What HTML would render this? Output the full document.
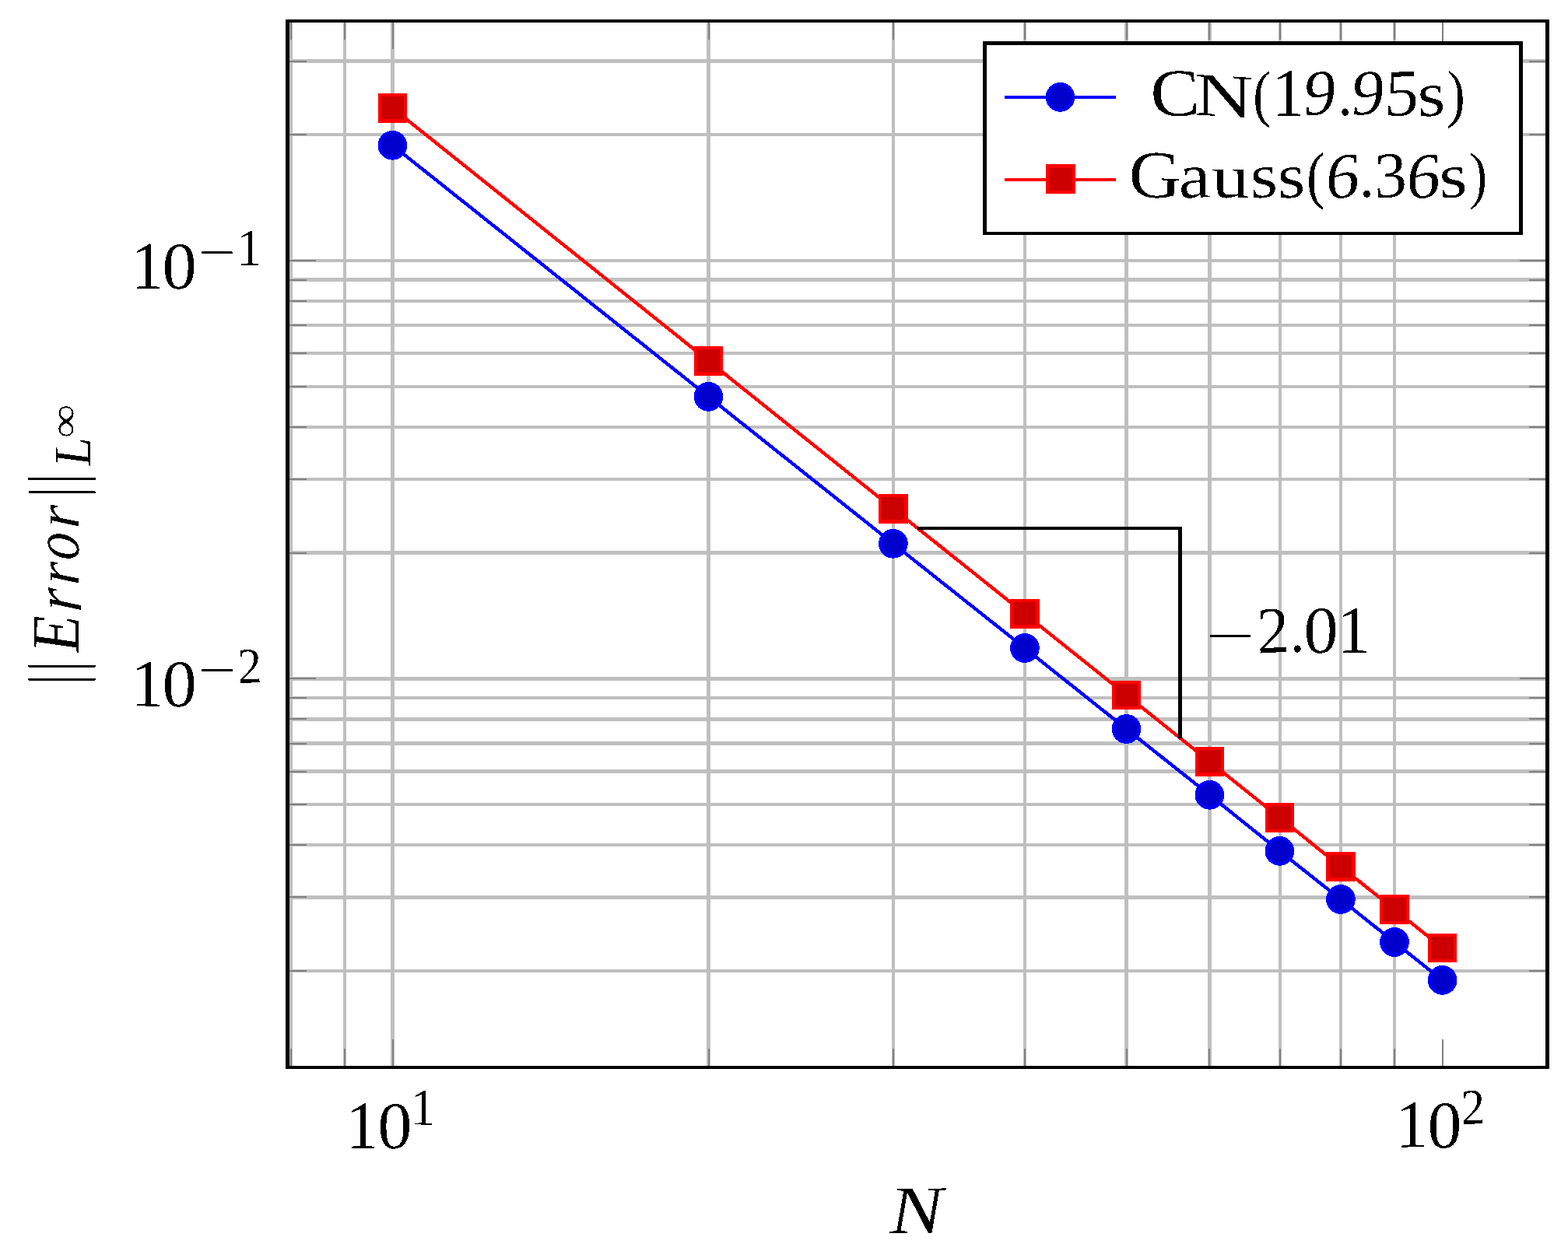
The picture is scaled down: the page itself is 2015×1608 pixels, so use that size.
<!DOCTYPE html>
<html><head><meta charset="utf-8"><title>Error convergence plot</title>
<style>
html,body{margin:0;padding:0;background:#fff;}
svg{display:block;}
text{font-family:"Liberation Serif", serif;fill:#000;}
</style></head><body>
<svg width="2015" height="1608" viewBox="0 0 2015 1608" shape-rendering="crispEdges">
<defs><filter id="b_slope" x="0" y="0" width="2015" height="1608" filterUnits="userSpaceOnUse" color-interpolation-filters="sRGB"><feComponentTransfer><feFuncA type="discrete" tableValues="0 0 1"/></feComponentTransfer></filter><filter id="b_legend" x="0" y="0" width="2015" height="1608" filterUnits="userSpaceOnUse" color-interpolation-filters="sRGB"><feComponentTransfer><feFuncA type="discrete" tableValues="0 0 1"/></feComponentTransfer></filter><filter id="b_ticks" x="0" y="0" width="2015" height="1608" filterUnits="userSpaceOnUse" color-interpolation-filters="sRGB"><feComponentTransfer><feFuncA type="discrete" tableValues="0 0 1"/></feComponentTransfer></filter><filter id="b_xlabel" x="0" y="0" width="2015" height="1608" filterUnits="userSpaceOnUse" color-interpolation-filters="sRGB"><feComponentTransfer><feFuncA type="discrete" tableValues="0 0 1"/></feComponentTransfer></filter><filter id="b_ylabel" x="0" y="0" width="2015" height="1608" filterUnits="userSpaceOnUse" color-interpolation-filters="sRGB"><feComponentTransfer><feFuncA type="discrete" tableValues="0 0 1"/></feComponentTransfer></filter></defs>
<rect x="0" y="0" width="2015" height="1608" fill="#fff"/>
<path d="M373.74,27.00V1372.00M442.76,27.00V1372.00M504.50,27.00V1372.00M910.68,27.00V1372.00M1148.28,27.00V1372.00M1316.86,27.00V1372.00M1447.62,27.00V1372.00M1554.46,27.00V1372.00M1644.79,27.00V1372.00M1723.04,27.00V1372.00M1792.06,27.00V1372.00M369.50,78.67H1988.60M369.50,173.29H1988.60M369.50,335.05H1988.60M369.50,359.64H1988.60M369.50,387.12H1988.60M369.50,418.29H1988.60M369.50,454.26H1988.60M369.50,496.81H1988.60M369.50,548.88H1988.60M369.50,616.02H1988.60M369.50,710.64H1988.60M369.50,872.40H1988.60M369.50,896.99H1988.60M369.50,924.47H1988.60M369.50,955.64H1988.60M369.50,991.61H1988.60M369.50,1034.16H1988.60M369.50,1086.23H1988.60M369.50,1153.37H1988.60M369.50,1247.99H1988.60" stroke="#bfbfbf" stroke-width="4.4" fill="none"/>
<path d="M373.74,1372.00v-24.0M373.74,27.00v24.0M442.76,1372.00v-24.0M442.76,27.00v24.0M504.50,1372.00v-36.0M504.50,27.00v36.0M910.68,1372.00v-24.0M910.68,27.00v24.0M1148.28,1372.00v-24.0M1148.28,27.00v24.0M1316.86,1372.00v-24.0M1316.86,27.00v24.0M1447.62,1372.00v-24.0M1447.62,27.00v24.0M1554.46,1372.00v-24.0M1554.46,27.00v24.0M1644.79,1372.00v-24.0M1644.79,27.00v24.0M1723.04,1372.00v-24.0M1723.04,27.00v24.0M1792.06,1372.00v-24.0M1792.06,27.00v24.0M1853.80,1372.00v-36.0M1853.80,27.00v36.0M369.50,78.67h24.0M1988.60,78.67h-24.0M369.50,173.29h24.0M1988.60,173.29h-24.0M369.50,335.05h36.0M1988.60,335.05h-36.0M369.50,359.64h24.0M1988.60,359.64h-24.0M369.50,387.12h24.0M1988.60,387.12h-24.0M369.50,418.29h24.0M1988.60,418.29h-24.0M369.50,454.26h24.0M1988.60,454.26h-24.0M369.50,496.81h24.0M1988.60,496.81h-24.0M369.50,548.88h24.0M1988.60,548.88h-24.0M369.50,616.02h24.0M1988.60,616.02h-24.0M369.50,710.64h24.0M1988.60,710.64h-24.0M369.50,872.40h36.0M1988.60,872.40h-36.0M369.50,896.99h24.0M1988.60,896.99h-24.0M369.50,924.47h24.0M1988.60,924.47h-24.0M369.50,955.64h24.0M1988.60,955.64h-24.0M369.50,991.61h24.0M1988.60,991.61h-24.0M369.50,1034.16h24.0M1988.60,1034.16h-24.0M369.50,1086.23h24.0M1988.60,1086.23h-24.0M369.50,1153.37h24.0M1988.60,1153.37h-24.0M369.50,1247.99h24.0M1988.60,1247.99h-24.0" stroke="#808080" stroke-width="2.0" fill="none"/>
<rect x="369.5" y="27.0" width="1619.10" height="1345.00" fill="none" stroke="#000" stroke-width="4.4"/>
<path d="M504.40,186.80L910.50,509.90L1147.90,698.80L1316.90,833.00L1447.50,937.00L1554.40,1021.80L1644.40,1093.90L1722.90,1156.00L1792.00,1211.00L1853.60,1259.90" stroke="#0000ff" stroke-width="4.4" fill="none" stroke-linejoin="miter"/>
<g fill="#0000cc" stroke="#0000ff" stroke-width="4.3"><circle cx="504.4" cy="186.8" r="16.7"/><circle cx="910.5" cy="509.9" r="16.7"/><circle cx="1147.9" cy="698.8" r="16.7"/><circle cx="1316.9" cy="833.0" r="16.7"/><circle cx="1447.5" cy="937.0" r="16.7"/><circle cx="1554.4" cy="1021.8" r="16.7"/><circle cx="1644.4" cy="1093.9" r="16.7"/><circle cx="1722.9" cy="1156.0" r="16.7"/><circle cx="1792.0" cy="1211.0" r="16.7"/><circle cx="1853.6" cy="1259.9" r="16.7"/></g>
<path d="M504.40,138.90L910.50,463.90L1147.90,653.90L1316.90,788.90L1447.40,893.40L1554.40,978.90L1644.50,1051.00L1722.90,1113.90L1792.00,1169.00L1853.60,1218.40" stroke="#ff0000" stroke-width="4.4" fill="none"/>
<g fill="#cc0000" stroke="#ff0000" stroke-width="4.3"><rect x="487.70" y="122.20" width="33.4" height="33.4"/><rect x="893.80" y="447.20" width="33.4" height="33.4"/><rect x="1131.20" y="637.20" width="33.4" height="33.4"/><rect x="1300.20" y="772.20" width="33.4" height="33.4"/><rect x="1430.70" y="876.70" width="33.4" height="33.4"/><rect x="1537.70" y="962.20" width="33.4" height="33.4"/><rect x="1627.80" y="1034.30" width="33.4" height="33.4"/><rect x="1706.20" y="1097.20" width="33.4" height="33.4"/><rect x="1775.30" y="1152.30" width="33.4" height="33.4"/><rect x="1836.90" y="1201.70" width="33.4" height="33.4"/></g>
<path d="M1179.2,678.9H1516.5V948.6" stroke="#000" stroke-width="4.4" fill="none"/>
<rect x="1265.5" y="55.5" width="689" height="244.5" fill="#fff" stroke="#000" stroke-width="4.4"/>
<path d="M1291,125H1434" stroke="#0000ff" stroke-width="4" fill="none"/>
<circle cx="1362.5" cy="124.9" r="16.7" fill="#0000cc" stroke="#0000ff" stroke-width="4.3"/>
<path d="M1291,231H1434" stroke="#ff0000" stroke-width="4" fill="none"/>
<rect x="1346.3" y="213.60000000000002" width="33.4" height="33.4" fill="#cc0000" stroke="#ff0000" stroke-width="4.3"/>
<g filter="url(#b_slope)"><text transform="matrix(1.13098,-0.00009,0.00675,0.60685,1548.879,837.776)" font-size="100">−</text><text transform="matrix(0.83727,-0.04715,0.02617,0.85244,1615.800,839.906)" font-size="100">2</text><text transform="matrix(0.76170,0.00644,-0.00677,0.83515,1657.872,837.717)" font-size="100">.</text><text transform="matrix(0.88758,-0.06900,0.00380,0.86060,1675.454,840.734)" font-size="100">0</text><text transform="matrix(0.85782,0.00572,0.00007,0.87200,1718.214,838.792)" font-size="100">1</text></g>
<g filter="url(#b_legend)"><text transform="matrix(0.94869,-0.02497,0.03049,0.86752,1479.282,149.487)" font-size="100">C</text><text transform="matrix(1.04218,0.05821,-0.00408,0.79260,1534.806,147.385)" font-size="100">N</text><text transform="matrix(0.71765,-0.00523,-0.00410,0.81606,1609.678,147.423)" font-size="100">(</text><text transform="matrix(0.85638,0.00704,-0.00004,0.88167,1633.992,148.804)" font-size="100">1</text><text transform="matrix(0.83879,-0.04862,-0.06558,0.83337,1673.402,148.312)" font-size="100">9</text><text transform="matrix(0.75041,-0.01462,0.02101,0.81970,1719.210,147.881)" font-size="100">.</text><text transform="matrix(0.84893,-0.03490,-0.06957,0.82840,1735.036,147.713)" font-size="100">9</text><text transform="matrix(0.87823,-0.03420,-0.04170,0.85954,1778.139,149.300)" font-size="100">5</text><text transform="matrix(0.92843,-0.06218,0.01304,0.82327,1821.788,150.066)" font-size="100">s</text><text transform="matrix(0.71468,0.04479,-0.01070,0.82514,1858.893,147.820)" font-size="100">)</text><text transform="matrix(0.93762,0.02416,-0.02389,0.87067,1449.803,253.020)" font-size="100">G</text><text transform="matrix(0.92524,-0.02401,0.01990,0.82774,1514.997,254.555)" font-size="100">a</text><text transform="matrix(0.96850,0.00458,0.01287,0.79816,1557.528,253.880)" font-size="100">u</text><text transform="matrix(0.90633,-0.06770,0.00864,0.82331,1606.950,255.117)" font-size="100">s</text><text transform="matrix(0.91323,-0.06209,0.01150,0.82309,1641.900,255.067)" font-size="100">s</text><text transform="matrix(0.71958,-0.00824,-0.00230,0.82021,1678.663,252.651)" font-size="100">(</text><text transform="matrix(0.87213,-0.06754,-0.06988,0.83440,1701.682,256.004)" font-size="100">6</text><text transform="matrix(0.77529,-0.00019,0.00392,0.81884,1746.785,252.596)" font-size="100">.</text><text transform="matrix(0.83792,-0.07309,0.01841,0.83779,1766.506,254.973)" font-size="100">3</text><text transform="matrix(0.87640,-0.06312,-0.07081,0.83331,1805.381,255.989)" font-size="100">6</text><text transform="matrix(0.92956,-0.07324,0.01498,0.82098,1849.753,255.078)" font-size="100">s</text><text transform="matrix(0.69973,-0.04892,0.00137,0.81287,1887.936,252.822)" font-size="100">)</text></g>
<g filter="url(#b_ticks)"><text transform="matrix(0.84075,0.00817,0.00068,0.87335,168.443,370.812)" font-size="100">1</text><text transform="matrix(0.89021,-0.04782,-0.00253,0.86014,208.278,372.221)" font-size="100">0</text><text transform="matrix(0.85643,0.00034,0.01313,0.61111,255.341,344.892)" font-size="100">−</text><text transform="matrix(0.64354,0.00625,0.00076,0.67180,304.250,340.738)" font-size="100">1</text><text transform="matrix(0.84163,0.01221,0.00110,0.87115,168.414,907.424)" font-size="100">1</text><text transform="matrix(0.89021,-0.04782,-0.00253,0.86014,208.278,909.221)" font-size="100">0</text><text transform="matrix(0.85485,0.00050,0.02654,0.67441,255.741,883.821)" font-size="100">−</text><text transform="matrix(0.62488,-0.02497,0.02410,0.64828,306.000,878.142)" font-size="100">2</text><text transform="matrix(0.84161,0.00542,0.00065,0.87142,444.466,1475.655)" font-size="100">1</text><text transform="matrix(0.88968,-0.05053,0.00053,0.85929,485.343,1477.266)" font-size="100">0</text><text transform="matrix(0.62333,0.00934,0.00065,0.67069,527.817,1445.538)" font-size="100">1</text><text transform="matrix(0.85363,-0.00529,0.00033,0.87315,1793.079,1474.847)" font-size="100">1</text><text transform="matrix(0.88333,-0.04020,-0.00570,0.86377,1834.242,1476.290)" font-size="100">0</text><text transform="matrix(0.61588,-0.02996,0.01965,0.65105,1878.201,1445.376)" font-size="100">2</text></g>
<g filter="url(#b_xlabel)"><text transform="matrix(1.04900,-0.00773,0.03445,0.87614,1143.711,1585.139)" font-size="100" font-style="italic">N</text></g>
<g filter="url(#b_ylabel)"><text transform="matrix(0.00070,-0.59828,0.95120,-0.00060,102.214,879.360)" font-size="100">|</text><text transform="matrix(0.00070,-0.59828,0.95120,-0.00060,102.214,862.360)" font-size="100">|</text><text transform="matrix(0.00013,-0.79647,0.87331,-0.01553,100.980,838.661)" font-size="100" font-style="italic">E</text><text transform="matrix(-0.04574,-0.75373,0.86956,0.05553,104.803,787.187)" font-size="100" font-style="italic">r</text><text transform="matrix(0.02728,-0.75804,0.80464,0.03964,101.140,752.779)" font-size="100" font-style="italic">r</text><text transform="matrix(-0.05957,-0.71610,0.83808,0.02645,102.321,720.478)" font-size="100" font-style="italic">o</text><text transform="matrix(0.02728,-0.75804,0.80464,0.03964,101.140,679.779)" font-size="100" font-style="italic">r</text><text transform="matrix(-0.01409,-0.62380,0.95024,0.00094,102.517,638.897)" font-size="100">|</text><text transform="matrix(-0.02603,-0.64701,0.95098,0.00004,102.610,621.894)" font-size="100">|</text><text transform="matrix(-0.00674,-0.67443,0.67574,-0.02851,116.199,599.098)" font-size="100" font-style="italic">L</text><text transform="matrix(-0.00286,-0.60947,0.51574,0.00335,99.982,563.203)" font-size="100">∞</text></g>
</svg></body></html>
